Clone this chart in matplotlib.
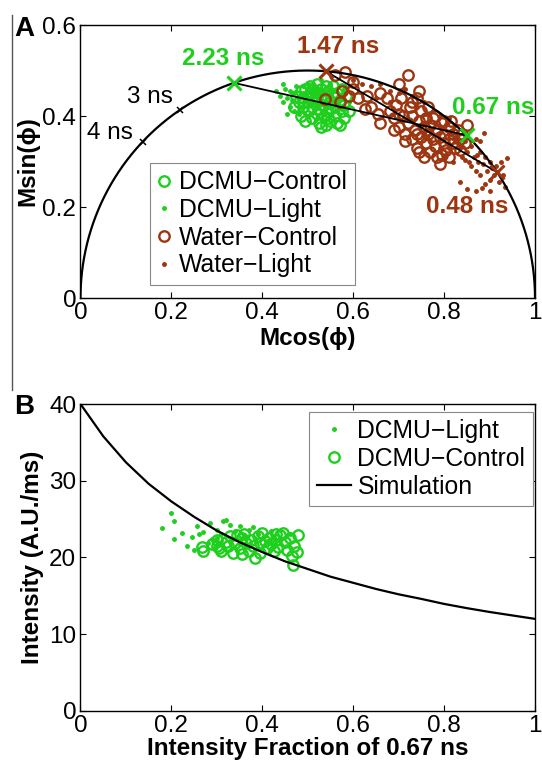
import matplotlib
matplotlib.use('Agg')
import matplotlib.pyplot as plt
from matplotlib.lines import Line2D
import numpy as np

plt.rcParams['font.family'] = ['Liberation Sans', 'DejaVu Sans']
plt.rcParams['font.size'] = 17

green = '#1ecf1e'
brown = '#9c3510'

# panel A: phasor data
dcmu_ctrl_x = [0.475, 0.48, 0.485, 0.49, 0.49, 0.495, 0.50, 0.50, 0.505, 0.505, 0.51, 0.51, 0.515, 0.515,
               0.52, 0.52, 0.52, 0.525, 0.525, 0.53, 0.53, 0.535, 0.535, 0.54, 0.54, 0.545, 0.545, 0.55,
               0.55, 0.555, 0.555, 0.56, 0.56, 0.565, 0.565, 0.57, 0.575, 0.575, 0.58, 0.58, 0.585, 0.59,
               0.495, 0.50, 0.51, 0.525, 0.54, 0.55, 0.57, 0.53, 0.485, 0.47, 0.545, 0.56, 0.52]
dcmu_ctrl_y = [0.445, 0.43, 0.455, 0.42, 0.44, 0.46, 0.41, 0.43, 0.45, 0.465, 0.395, 0.42, 0.44, 0.455,
               0.405, 0.43, 0.47, 0.385, 0.415, 0.445, 0.46, 0.40, 0.425, 0.38, 0.44, 0.455, 0.41, 0.39,
               0.43, 0.465, 0.445, 0.40, 0.42, 0.385, 0.45, 0.435, 0.41, 0.46, 0.395, 0.425, 0.445, 0.41,
               0.39, 0.445, 0.46, 0.45, 0.465, 0.415, 0.38, 0.375, 0.40, 0.42, 0.395, 0.445, 0.445]

dcmu_light_x = [0.43, 0.44, 0.445, 0.45, 0.455, 0.46, 0.46, 0.465, 0.47, 0.47, 0.475, 0.48, 0.485, 0.49,
                0.50, 0.51, 0.52, 0.53, 0.54, 0.55, 0.56, 0.57, 0.58, 0.59, 0.50, 0.52, 0.545, 0.565,
                0.455, 0.445, 0.505, 0.535, 0.575, 0.49, 0.48]
dcmu_light_y = [0.455, 0.445, 0.43, 0.46, 0.44, 0.42, 0.455, 0.435, 0.45, 0.41, 0.465, 0.44, 0.42, 0.45,
                0.47, 0.435, 0.46, 0.48, 0.43, 0.47, 0.455, 0.44, 0.46, 0.43, 0.40, 0.395, 0.42, 0.43,
                0.405, 0.47, 0.425, 0.455, 0.415, 0.465, 0.405]

water_ctrl_x = [0.537, 0.56, 0.575, 0.57, 0.59, 0.60, 0.61, 0.63, 0.64, 0.655, 0.66, 0.675, 0.68, 0.69,
                0.695, 0.70, 0.705, 0.71, 0.715, 0.72, 0.72, 0.725, 0.73, 0.73, 0.735, 0.74, 0.74, 0.745,
                0.75, 0.75, 0.755, 0.76, 0.76, 0.765, 0.77, 0.77, 0.775, 0.78, 0.78, 0.785, 0.79, 0.79,
                0.795, 0.80, 0.80, 0.805, 0.81, 0.81, 0.815, 0.82, 0.82, 0.825, 0.83, 0.835, 0.84, 0.845,
                0.85, 0.755, 0.795, 0.73, 0.70, 0.765, 0.715, 0.745, 0.785, 0.81, 0.775, 0.74, 0.76, 0.80,
                0.835, 0.69, 0.625, 0.66, 0.745, 0.70, 0.581, 0.60]
water_ctrl_y = [0.437, 0.49, 0.455, 0.43, 0.445, 0.46, 0.44, 0.445, 0.42, 0.405, 0.45, 0.44, 0.41, 0.395,
                0.425, 0.375, 0.44, 0.40, 0.36, 0.49, 0.385, 0.42, 0.35, 0.40, 0.37, 0.44, 0.33, 0.39,
                0.355, 0.41, 0.375, 0.34, 0.395, 0.36, 0.32, 0.38, 0.35, 0.40, 0.335, 0.37, 0.355, 0.295,
                0.385, 0.34, 0.36, 0.325, 0.375, 0.35, 0.39, 0.34, 0.36, 0.33, 0.37, 0.35, 0.36, 0.34,
                0.38, 0.31, 0.315, 0.43, 0.405, 0.42, 0.345, 0.32, 0.31, 0.31, 0.395, 0.36, 0.37, 0.39,
                0.325, 0.37, 0.415, 0.385, 0.455, 0.47, 0.497, 0.475]

water_light_x = [0.60, 0.62, 0.64, 0.66, 0.68, 0.70, 0.715, 0.73, 0.74, 0.755, 0.76, 0.775, 0.78, 0.79,
                 0.80, 0.81, 0.815, 0.825, 0.83, 0.835, 0.84, 0.845, 0.85, 0.855, 0.86, 0.86, 0.865, 0.87,
                 0.87, 0.875, 0.88, 0.88, 0.885, 0.89, 0.89, 0.895, 0.90, 0.90, 0.905, 0.91, 0.915, 0.92,
                 0.925, 0.93, 0.935, 0.938, 0.836, 0.85, 0.87, 0.90, 0.82, 0.80, 0.79, 0.77, 0.65, 0.68,
                 0.887, 0.88, 0.755, 0.81, 0.847, 0.872, 0.883]
water_light_y = [0.48, 0.47, 0.465, 0.47, 0.455, 0.45, 0.46, 0.445, 0.42, 0.43, 0.405, 0.41, 0.385, 0.40,
                 0.375, 0.395, 0.36, 0.38, 0.35, 0.33, 0.31, 0.345, 0.32, 0.30, 0.335, 0.29, 0.31, 0.28,
                 0.35, 0.30, 0.32, 0.27, 0.295, 0.25, 0.31, 0.28, 0.30, 0.26, 0.285, 0.27, 0.29, 0.255,
                 0.30, 0.27, 0.245, 0.307, 0.256, 0.24, 0.235, 0.235, 0.30, 0.31, 0.33, 0.345, 0.44, 0.43,
                 0.362, 0.345, 0.365, 0.33, 0.303, 0.314, 0.241]

freq_ghz = 0.1  # 100 MHz modulation
dcmu_tau = [2.23, 0.67]
water_tau = [1.47, 0.48]
ref_tau = [3.0, 4.0]

# panel B: intensity vs fraction
b_light_x = [0.18, 0.20, 0.205, 0.205, 0.223, 0.234, 0.245, 0.256, 0.26, 0.27, 0.285, 0.29, 0.30, 0.313,
             0.32, 0.31, 0.33, 0.34, 0.35, 0.36, 0.37, 0.38, 0.39, 0.33, 0.35, 0.28, 0.25, 0.30, 0.42,
             0.44, 0.46, 0.41]
b_light_y = [23.8, 25.8, 24.7, 22.4, 23.2, 21.5, 22.7, 24.1, 23.0, 23.3, 24.5, 22.4, 23.6, 24.8,
             24.9, 23.0, 24.2, 23.5, 24.1, 22.8, 23.6, 24.0, 23.1, 22.0, 21.8, 21.9, 21.0, 22.5, 23.4,
             22.6, 23.0, 22.1]
b_ctrl_x = [0.267, 0.27, 0.29, 0.30, 0.305, 0.31, 0.32, 0.325, 0.33, 0.335, 0.34, 0.345, 0.35, 0.355,
            0.36, 0.365, 0.37, 0.375, 0.38, 0.384, 0.39, 0.395, 0.40, 0.405, 0.41, 0.415, 0.42, 0.425,
            0.43, 0.435, 0.44, 0.445, 0.45, 0.455, 0.46, 0.465, 0.468, 0.47, 0.476, 0.479, 0.355, 0.30,
            0.395, 0.43]
b_ctrl_y = [21.4, 20.9, 21.8, 22.3, 21.2, 20.8, 22.0, 21.5, 22.8, 20.6, 21.9, 22.9, 21.3, 22.5,
            23.0, 21.9, 20.8, 22.3, 21.5, 19.9, 22.8, 21.9, 23.2, 22.2, 21.2, 22.6, 21.7, 20.8,
            22.3, 21.4, 22.9, 23.2, 22.0, 21.0, 22.5, 20.2, 19.0, 21.5, 20.7, 22.9, 20.4, 21.5,
            20.6, 23.0]
sim_x = [0, 0.05, 0.1, 0.15, 0.2, 0.25, 0.3, 0.35, 0.4, 0.45, 0.5, 0.55, 0.6, 0.65, 0.7, 0.75,
         0.8, 0.85, 0.9, 0.95, 1.0]
sim_y = [40.0, 35.8, 32.4, 29.6, 27.3, 25.3, 23.5, 22.0, 20.7, 19.5, 18.5, 17.5, 16.7, 15.9, 15.2, 14.6,
         13.95, 13.4, 12.9, 12.45, 12.0]


def phasor(tau):
    wt = 2 * np.pi * freq_ghz * np.asarray(tau)
    return 1 / (1 + wt ** 2), wt / (1 + wt ** 2)


fig = plt.figure(figsize=(5.42, 7.63), dpi=100)
axA = fig.add_axes([0.1485, 0.6094, 0.8386, 0.3578])
axB = fig.add_axes([0.1485, 0.0682, 0.8386, 0.4023])

for ax in (axA, axB):
    ax.tick_params(direction='in', top=True, right=True, length=4, width=0.8, labelsize=17.5, pad=3)
    for sp in ax.spines.values():
        sp.set_linewidth(1.0)

# universal circle
th = np.linspace(0, np.pi, 300)
axA.plot(0.5 + 0.5 * np.cos(th), 0.5 * np.sin(th), color='k', lw=1.6, zorder=3)

circ = dict(mfc='none', mew=1.7, ms=7.5)
axA.plot(dcmu_light_x, dcmu_light_y, '.', color=green, ms=5, label='DCMU\u2212Light', zorder=2)
axA.plot(dcmu_ctrl_x, dcmu_ctrl_y, 'o', mec=green, label='DCMU\u2212Control', zorder=2, **circ)
axA.plot(water_ctrl_x, water_ctrl_y, 'o', mec=brown, label='Water\u2212Control', zorder=2, **circ)
axA.plot(water_light_x, water_light_y, '.', color=brown, ms=5, label='Water\u2212Light', zorder=2)

gd, sd = phasor(dcmu_tau)
gw, sw = phasor(water_tau)
gr, sr = phasor(ref_tau)
axA.plot(gd, sd, color='k', lw=1.3, zorder=3)
axA.plot(gw, sw, color='k', lw=1.3, zorder=3)
axA.plot(gd, sd, 'x', color=green, ms=10, mew=2.2, zorder=4)
axA.plot(gw, sw, 'x', color=brown, ms=10, mew=2.2, zorder=4)
axA.plot(gr, sr, 'x', color='k', ms=4.5, mew=1.1, zorder=4)

axA.text(0.315, 0.527, '2.23 ns', color=green, fontsize=17.5, fontweight='bold', ha='center', va='center')
axA.text(0.567, 0.552, '1.47 ns', color=brown, fontsize=17.5, fontweight='bold', ha='center', va='center')
axA.text(0.909, 0.418, '0.67 ns', color=green, fontsize=17.5, fontweight='bold', ha='center', va='center')
axA.text(0.850, 0.202, '0.48 ns', color=brown, fontsize=17.5, fontweight='bold', ha='center', va='center')
axA.text(0.152, 0.442, '3 ns', fontsize=17.5, ha='center', va='center')
axA.text(0.064, 0.363, '4 ns', fontsize=17.5, ha='center', va='center')

axA.set_xlim(0, 1)
axA.set_ylim(0, 0.6)
axA.set_xticks([0, 0.2, 0.4, 0.6, 0.8, 1])
axA.set_xticklabels(['0', '0.2', '0.4', '0.6', '0.8', '1'])
axA.set_yticks([0, 0.2, 0.4, 0.6])
axA.set_yticklabels(['0', '0.2', '0.4', '0.6'])
axA.set_xlabel('Mcos(\u03d5)', fontsize=17.5, fontweight='bold', labelpad=2)
axA.set_ylabel('Msin(\u03d5)', fontsize=17.5, fontweight='bold', labelpad=2)

h, l = axA.get_legend_handles_labels()
order = [1, 0, 2, 3]
legA = axA.legend([h[i] for i in order], [l[i] for i in order], loc='upper left',
                  bbox_to_anchor=(0.152, 0.495), borderaxespad=0, fontsize=17.8,
                  handlelength=0.6, handletextpad=0.3, labelspacing=0.15, borderpad=0.3,
                  fancybox=False, framealpha=1)
legA.get_frame().set_edgecolor('#888888')
legA.get_frame().set_linewidth(0.8)

# panel B
axB.plot(b_light_x, b_light_y, '.', color=green, ms=5, label='DCMU\u2212Light', zorder=2)
axB.plot(b_ctrl_x, b_ctrl_y, 'o', mec=green, label='DCMU\u2212Control', zorder=2, **circ)
axB.plot(sim_x, sim_y, color='k', lw=1.6, label='Simulation', zorder=3)
axB.set_xlim(0, 1)
axB.set_ylim(0, 40)
axB.set_xticks([0, 0.2, 0.4, 0.6, 0.8, 1])
axB.set_xticklabels(['0', '0.2', '0.4', '0.6', '0.8', '1'])
axB.set_yticks([0, 10, 20, 30, 40])
axB.set_xlabel('Intensity Fraction of 0.67 ns', fontsize=17.5, fontweight='bold', labelpad=0)
axB.set_ylabel('Intensity (A.U./ms)', fontsize=17.5, fontweight='bold', labelpad=4)
legB = axB.legend(loc='upper right', bbox_to_anchor=(0.995, 0.975), borderaxespad=0, fontsize=17.8,
                  handlelength=1.4, handletextpad=0.25, labelspacing=0.15, borderpad=0.3,
                  fancybox=False, framealpha=1)
legB.get_frame().set_edgecolor('#888888')
legB.get_frame().set_linewidth(0.8)

fig.text(0.026, 0.962, 'A', fontsize=20, fontweight='bold', ha='left', va='center')
fig.text(0.026, 0.467, 'B', fontsize=20, fontweight='bold', ha='left', va='center')
fig.add_artist(Line2D([0.022, 0.022], [0.98, 0.489], color='#555555', lw=1))

fig.savefig('out.png', dpi=100)
